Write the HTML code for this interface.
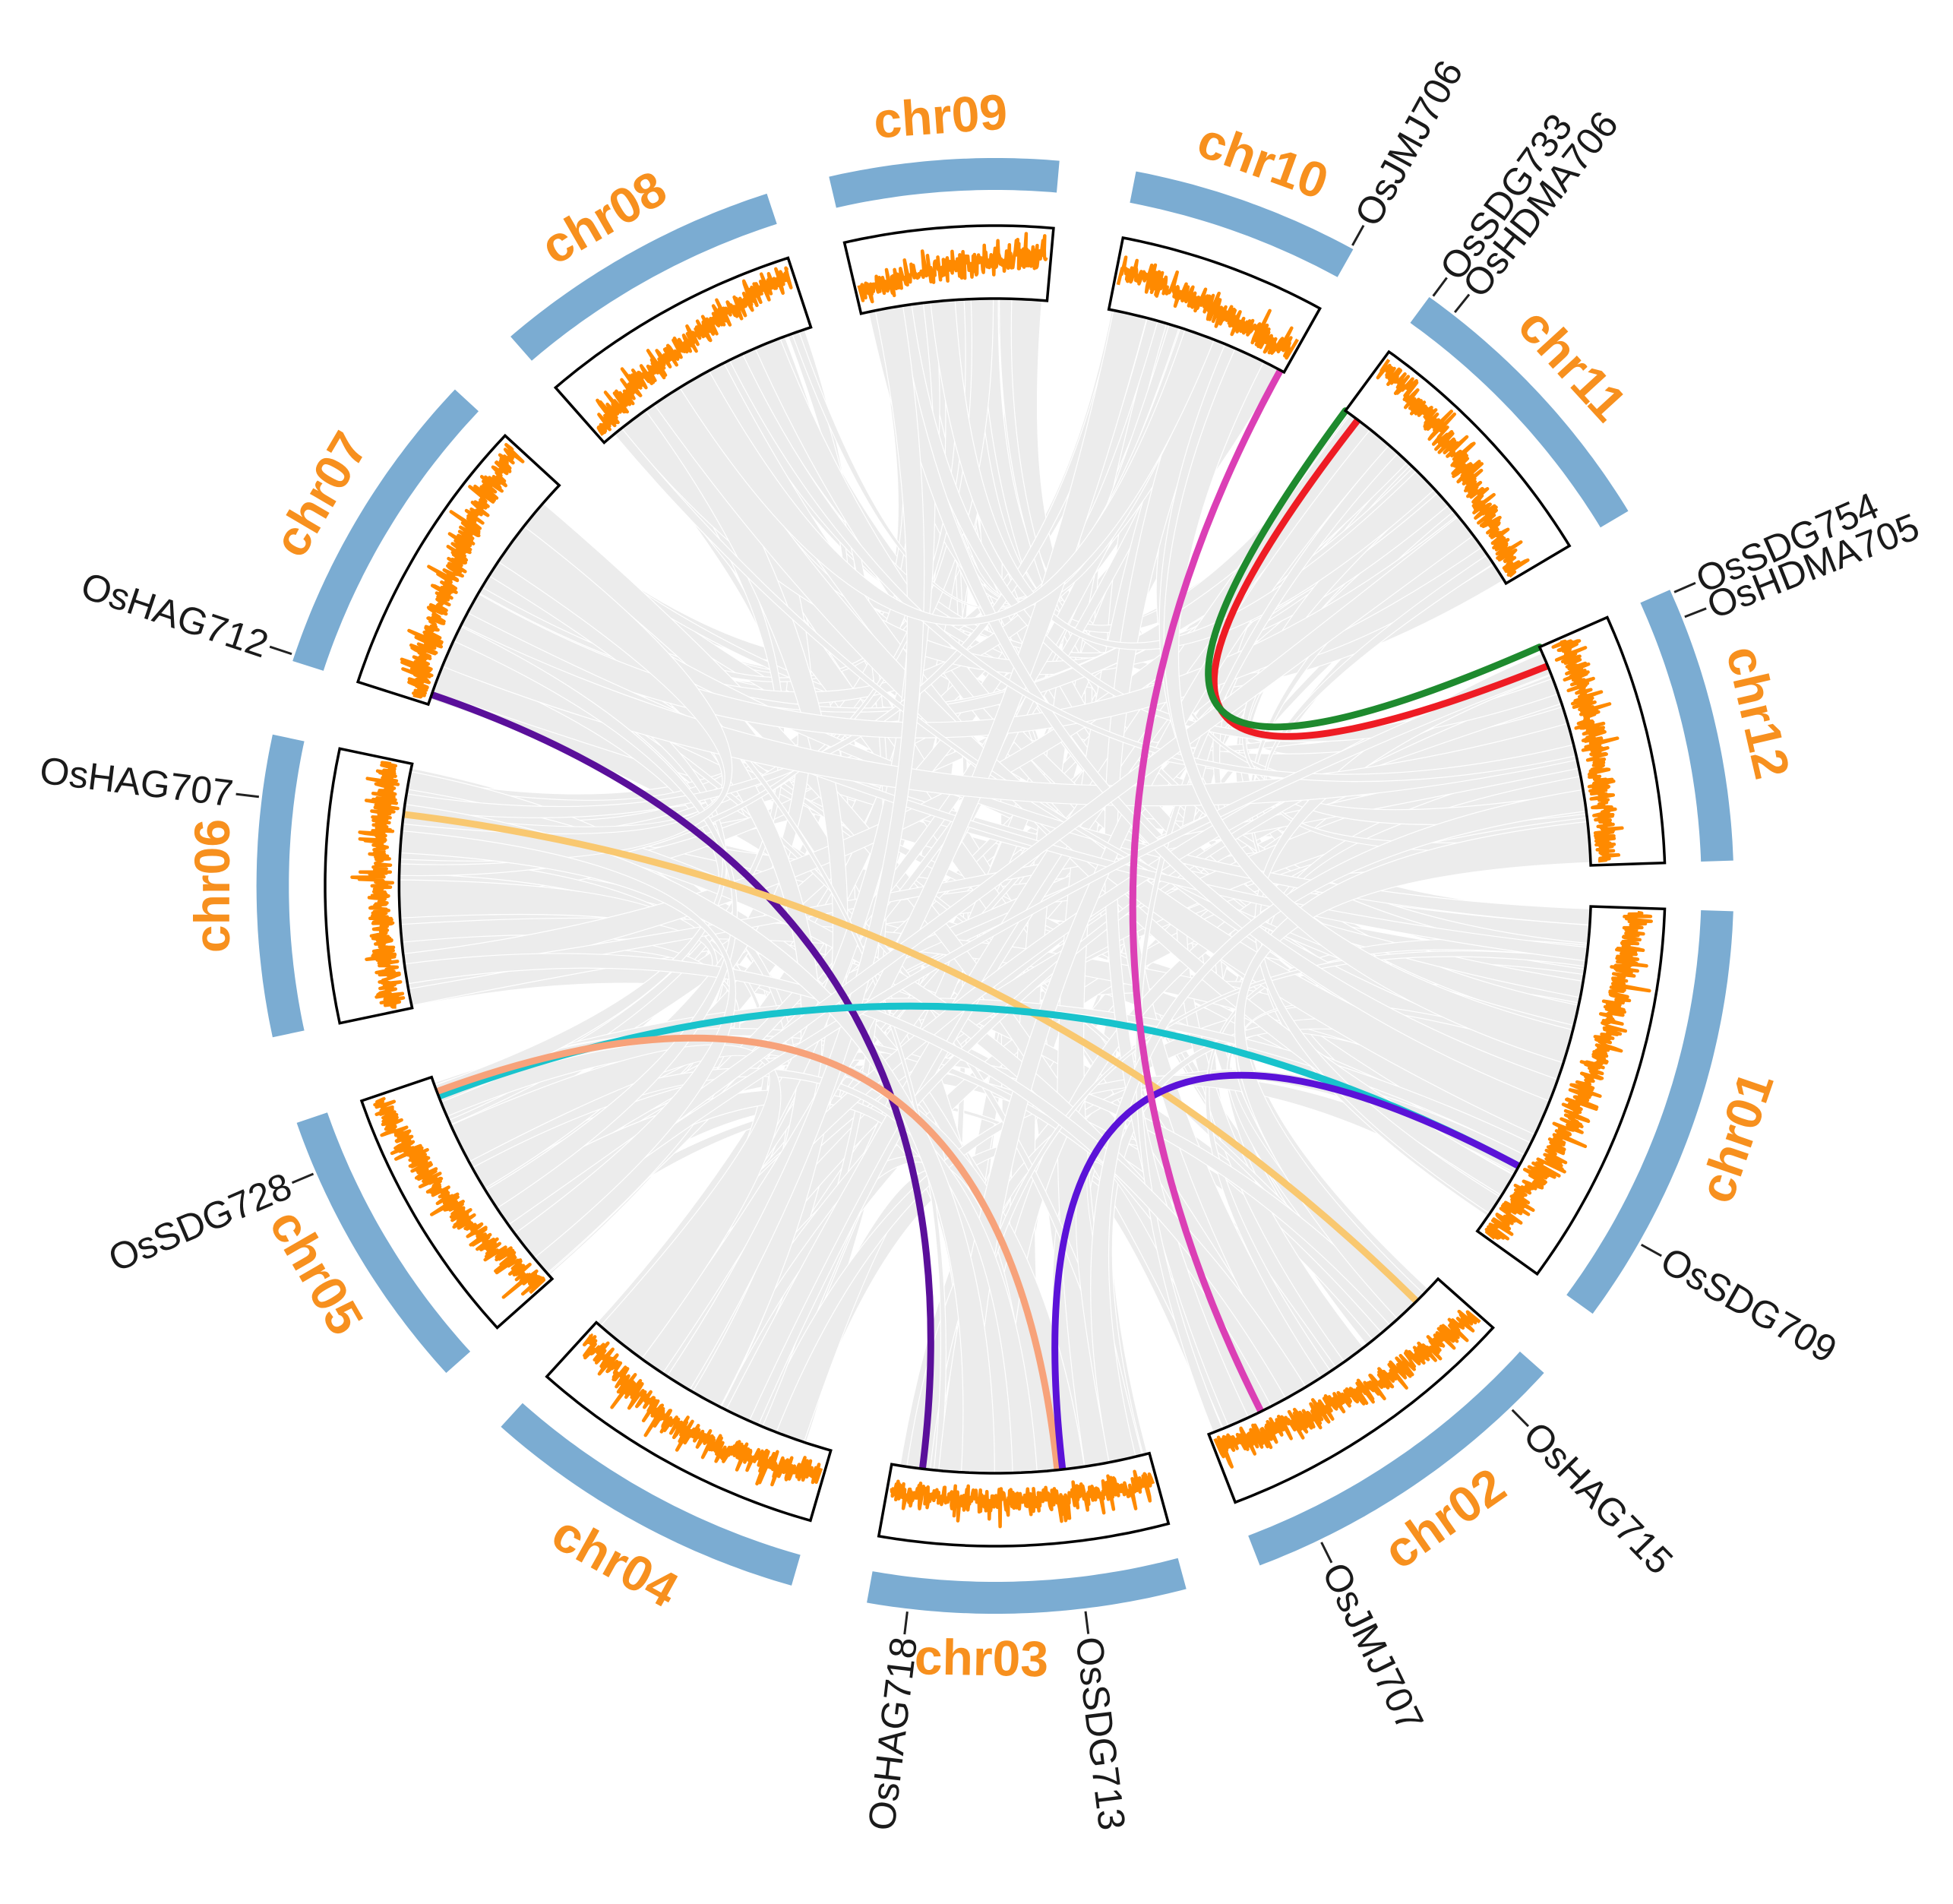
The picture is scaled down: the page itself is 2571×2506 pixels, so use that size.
<!DOCTYPE html>
<html><head><meta charset="utf-8">
<style>
html,body{margin:0;padding:0;background:#fff;}
svg{display:block;}
</style></head>
<body>
<svg id="s" xmlns="http://www.w3.org/2000/svg" width="2571" height="2506" viewBox="0 0 2571 2506">
<rect width="2571" height="2506" fill="#fff"/>
<g id="ribbons"></g>
<g id="links"></g>
<g id="tracks"></g>
<g id="labels"></g>
</svg>
<script>
(function(){
var NS="http://www.w3.org/2000/svg";
var cx=1310, cy=1166, sx=1.015;
var RB0=916, RB1=958, RI=773, RO=869;
function P(t,r){var a=t*Math.PI/180;return [cx+sx*r*Math.sin(a), cy-r*Math.cos(a)];}
function f(p){return p[0].toFixed(1)+","+p[1].toFixed(1);}
function el(parent,tag,attrs,text){var e=document.createElementNS(NS,tag);for(var k in attrs)e.setAttribute(k,attrs[k]);if(text!==undefined)e.textContent=text;document.getElementById(parent).appendChild(e);return e;}
var seed=12345;function rnd(){seed=(seed*1103515245+12345)&0x7fffffff;return seed/0x7fffffff;}
var chrs=[
 ["chr01",92,126,0.6,0.12,109],
 ["chr02",132,159,0.7,0.15,145],
 ["chr03",165,190,0.35,0.35,181],
 ["chr04",196,222,0.3,0.2,209],
 ["chr05",228,251,0.15,0.8,240],
 ["chr06",258,282,0.2,0.25,270],
 ["chr07",288,313,0.1,0.8,300.5],
 ["chr08",319,342,0.15,0.8,330],
 ["chr09",347,365,0.25,0.6,356],
 ["chr10",11,29,0.55,0.2,20],
 ["chr11",36,59,0.85,0.1,47.5],
 ["chr12",66,88,0.3,0.15,77]
];
function arcPts(a0,a1,r){var pts=[];var n=Math.max(2,Math.ceil(Math.abs(a1-a0)*2));for(var i=0;i<=n;i++){pts.push(P(a0+(a1-a0)*i/n,r));}return pts;}
var C=[cx,cy];
for(var k=0;k<230;k++){
  var i=Math.floor(rnd()*12), j=Math.floor(rnd()*12);
  if(i==j){j=(i+1+Math.floor(rnd()*11))%12;}
  var ci=chrs[i], cj=chrs[j];
  var w1=0.8+rnd()*3.2, w2=w1*(0.7+rnd()*0.6);
  var a1=ci[1]+rnd()*(ci[2]-ci[1]-w1), b1=cj[1]+rnd()*(cj[2]-cj[1]-w2);
  var a2=a1+w1, b2=b1+w2;
  var d="M"+f(P(a1,RI))+" Q"+f(C)+" "+f(P(b2,RI));
  var bp=arcPts(b2,b1,RI);for(var q=1;q<bp.length;q++)d+=" L"+f(bp[q]);
  d+=" Q"+f(C)+" "+f(P(a2,RI));
  var ap=arcPts(a2,a1,RI);for(var q=1;q<ap.length;q++)d+=" L"+f(ap[q]);
  d+="Z";
  el("ribbons","path",{d:d,fill:"#ececec",stroke:"#ffffff","stroke-width":"1.2"});
}
var links=[
 [289,187,"#5a0f9a"],
 [277,135,"#f9c870"],
 [249,118.5,"#19c3cc"],
 [249.5,174,"#f7a27a"],
 [173.5,118.5,"#5b12d8"],
 [28.6,153.5,"#db3fb5"],
 [37.5,68,"#ee1c24"],
 [36,66,"#1e8a2e"]
];
links.forEach(function(L){
  el("links","path",{d:"M"+f(P(L[0],RI))+" Q"+f(C)+" "+f(P(L[1],RI)),fill:"none",stroke:L[2],"stroke-width":"9","stroke-linecap":"round"});
});
chrs.forEach(function(c){
  var a0=c[1],a1=c[2];
  var o=arcPts(a0,a1,RB1), in_=arcPts(a1,a0,RB0);
  el("tracks","polygon",{points:o.concat(in_).map(f).join(" "),fill:"#7bacd2"});
  var bo=arcPts(a0,a1,RO), bi=arcPts(a1,a0,RI);
  el("tracks","polygon",{points:bo.concat(bi).map(f).join(" "),fill:"#fff",stroke:"#000","stroke-width":"3.5","stroke-linejoin":"miter"});
  var n=Math.round((a1-a0)*16), pts=[];
  for(var i=0;i<=n;i++){
    var t=i/n, th=a0+0.4+(a1-a0-0.8)*t;
    var v=c[3]+(c[4]-c[3])*t + (rnd()+rnd()-1)*0.22;
    if(rnd()<0.12) v+=0.3*rnd();
    if(c[0]=="chr04") v+=0.25*Math.sin(Math.PI*t);
    v=Math.max(0.03,Math.min(0.97,v));
    pts.push(P(th,RI+6+v*(RO-RI-12)));
  }
  el("tracks","polyline",{points:pts.map(f).join(" "),fill:"none",stroke:"#ff8a00","stroke-width":"4.5","stroke-linejoin":"round"});
  var m=c[5], p=P(m,1016), rot=(m>90&&m<270)?m-180:m;
  el("labels","text",{x:p[0].toFixed(1),y:p[1].toFixed(1),transform:"rotate("+rot.toFixed(2)+" "+p[0].toFixed(1)+" "+p[1].toFixed(1)+")","text-anchor":"middle","dominant-baseline":"central","font-family":"Liberation Sans, Arial, sans-serif","font-weight":"bold","font-size":"66",fill:"#f7901e"},c[0]);
});
var genes=[
 ["OsJMJ706",28.8],["OsSDG733",36.2],["OsHDMA706",38.3],["OsSDG754",66.3],["OsHDMA705",68.4],
 ["OsSDG709",119.4],["OsHAG715",135.8],["OsJMJ707",153.9],["OsSDG713",173],
 ["OsHAG718",186.8],["OsSDG728",246.8],["OsHAG707",277],["OsHAG712",288.5]
];
genes.forEach(function(g){
  var t=g[1];
  var p1=P(t,962), p2=P(t,992);
  el("labels","line",{x1:p1[0],y1:p1[1],x2:p2[0],y2:p2[1],stroke:"#222","stroke-width":"3"});
  var p=P(t,996), right=t<180;
  var rot=right?t-90:t+90;
  el("labels","text",{x:p[0].toFixed(1),y:p[1].toFixed(1),transform:"rotate("+rot.toFixed(2)+" "+p[0].toFixed(1)+" "+p[1].toFixed(1)+")","text-anchor":right?"start":"end","dominant-baseline":"central","font-family":"Liberation Sans, Arial, sans-serif","font-size":"50",fill:"#1a1a1a"},g[0]);
});
})();
</script>
</body></html>
